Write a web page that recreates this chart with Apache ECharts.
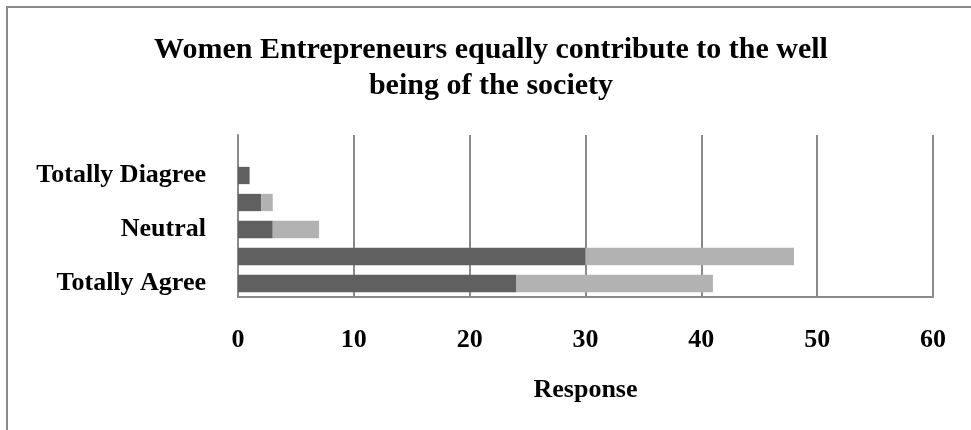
<!DOCTYPE html>
<html>
<head>
<meta charset="utf-8">
<script src="https://cdn.jsdelivr.net/npm/echarts@6/dist/echarts.min.js"></script>
<style>
html,body{margin:0;padding:0;width:971px;height:430px;overflow:hidden;background:#fff;}
#frame{position:absolute;left:6px;top:6px;width:1000px;height:500px;border-left:2px solid #8a8a8a;border-top:2px solid #8a8a8a;}
#chart{position:absolute;left:0;top:0;width:971px;height:430px;}
</style>
</head>
<body>
<div id="frame"></div>
<div id="chart"></div>
<script>
// Categories listed bottom to top
var categories = ['Totally Agree', 'Agree', 'Neutral', 'Disagree', 'Totally Diagree'];
var seriesDark = [24, 30, 3, 2, 1];
var seriesLight = [17, 18, 4, 1, 0];
var xTicks = [0, 10, 20, 30, 40, 50, 60];
var titleText = 'Women Entrepreneurs equally contribute to the well\nbeing of the society';
var xName = 'Response';

var font = 'Liberation Serif';
var chart = echarts.init(document.getElementById('chart'), null, {renderer: 'canvas'});
chart.setOption({
  backgroundColor: 'transparent',
  animation: false,
  title: {
    text: titleText,
    left: 486,
    top: 27,
    textAlign: 'center',
    textStyle: {fontFamily: font, fontWeight: 'bold', fontSize: 30, lineHeight: 36, color: '#000'}
  },
  grid: {left: 238, right: 38, top: 135, bottom: 133, containLabel: false},
  xAxis: {
    type: 'value',
    min: xTicks[0],
    max: xTicks[xTicks.length - 1],
    interval: xTicks[1] - xTicks[0],
    name: xName,
    nameLocation: 'middle',
    nameGap: 80,
    nameTextStyle: {fontFamily: font, fontWeight: 'bold', fontSize: 26, color: '#000'},
    axisLine: {show: true, lineStyle: {color: '#8a8a8a', width: 2}},
    axisTick: {show: false},
    splitLine: {show: true, lineStyle: {color: '#8a8a8a', width: 2}},
    axisLabel: {margin: 30, fontFamily: font, fontWeight: 'bold', fontSize: 26, color: '#000'}
  },
  yAxis: {
    type: 'category',
    data: categories,
    max: categories.length,
    axisLine: {show: true, lineStyle: {color: '#8a8a8a', width: 2}},
    axisTick: {show: false},
    splitLine: {show: false},
    axisLabel: {
      interval: 1,
      margin: 32,
      padding: [4, 0, 0, 0],
      fontFamily: font, fontWeight: 'bold', fontSize: 26, color: '#000',
      formatter: function (v) { return v == null ? '' : v; }
    }
  },
  series: [
    {name: 'Series 1', type: 'bar', stack: 'total', data: seriesDark, barCategoryGap: '36%',
     itemStyle: {color: '#606060'}},
    {name: 'Series 2', type: 'bar', stack: 'total', data: seriesLight, barCategoryGap: '36%',
     itemStyle: {color: '#b2b2b2'}}
  ]
});
</script>
</body>
</html>
